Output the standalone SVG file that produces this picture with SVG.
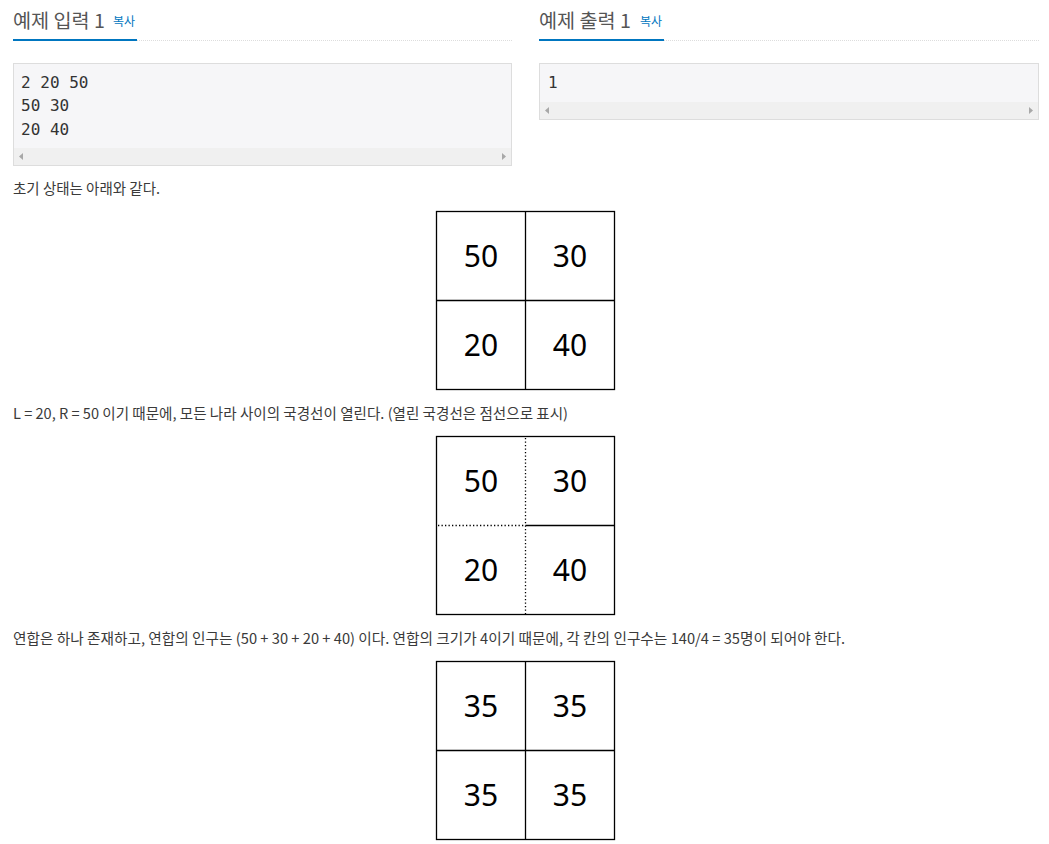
<svg xmlns="http://www.w3.org/2000/svg" width="1049" height="844" viewBox="0 0 1049 844">
<style>
.h{font-family:"Noto Sans CJK KR","Noto Sans",sans-serif;font-size:19px;fill:#555}
.cp{font-family:"Noto Sans CJK KR",sans-serif;font-size:12px;fill:#0076c0}
.code{font-family:"DejaVu Sans Mono",monospace;font-size:16px;fill:#333}
.p{font-family:"Noto Sans CJK KR","Noto Sans",sans-serif;font-size:14.5px;fill:#3a3a3a}
.n{font-family:"Noto Sans","Open Sans",sans-serif;font-size:30px;fill:#000;text-anchor:middle}
.box{fill:#f6f6f8;stroke:#ddd;stroke-width:1}
.sb{fill:#f0f0f0}
.arr{fill:#a8a8a8}
.cell{fill:#fff;stroke:#000;stroke-width:1.3}
.ln{stroke:#000;stroke-width:1.3}
.dot{stroke:#000;stroke-width:1.3;stroke-dasharray:1.3 2.2}
</style>
<rect width="1049" height="844" fill="#fff"/>
<g id="input-header">
<text class="h" x="13" y="28" textLength="92" lengthAdjust="spacingAndGlyphs">예제 입력 1</text>
<text class="cp" x="113" y="26">복사</text>
<line x1="137" y1="40.5" x2="512" y2="40.5" stroke="#ddd" stroke-width="1" stroke-dasharray="1 1"/>
<line x1="13" y1="40" x2="137" y2="40" stroke="#0076c0" stroke-width="2"/>
</g>
<g id="output-header">
<text class="h" x="539" y="28" textLength="92" lengthAdjust="spacingAndGlyphs">예제 출력 1</text>
<text class="cp" x="640" y="26">복사</text>
<line x1="664" y1="40.5" x2="1039" y2="40.5" stroke="#ddd" stroke-width="1" stroke-dasharray="1 1"/>
<line x1="539" y1="40" x2="664" y2="40" stroke="#0076c0" stroke-width="2"/>
</g>
<g id="input-box">
<rect class="box" x="13.5" y="63.5" width="498" height="102"/>
<rect class="sb" x="14" y="148" width="497" height="17"/>
<path class="arr" d="M19 156.5 L23 153 L23 160 Z"/>
<path class="arr" d="M506 156.5 L502 153 L502 160 Z"/>
<text class="code" x="21" y="88">2 20 50</text>
<text class="code" x="21" y="111">50 30</text>
<text class="code" x="21" y="135">20 40</text>
</g>
<g id="output-box">
<rect class="box" x="539.5" y="63.5" width="499" height="56"/>
<rect class="sb" x="540" y="102" width="498" height="17"/>
<path class="arr" d="M545 110.5 L549 107 L549 114 Z"/>
<path class="arr" d="M1033 110.5 L1029 107 L1029 114 Z"/>
<text class="code" x="548" y="88">1</text>
</g>
<text class="p" x="13" y="194" textLength="147" lengthAdjust="spacingAndGlyphs">초기 상태는 아래와 같다.</text>
<g id="grid1">
<rect class="cell" x="436.5" y="211.5" width="178" height="178"/>
<line class="ln" x1="525.5" y1="211.5" x2="525.5" y2="389.5"/>
<line class="ln" x1="436.5" y1="300.5" x2="614.5" y2="300.5"/>
<text class="n" x="481" y="267">50</text>
<text class="n" x="570" y="267">30</text>
<text class="n" x="481" y="356">20</text>
<text class="n" x="570" y="356">40</text>
</g>
<text class="p" x="13" y="419" textLength="555" lengthAdjust="spacingAndGlyphs">L = 20, R = 50 이기 때문에, 모든 나라 사이의 국경선이 열린다. (열린 국경선은 점선으로 표시)</text>
<g id="grid2">
<rect class="cell" x="436.5" y="436.5" width="178" height="178"/>
<line class="dot" x1="525.5" y1="438" x2="525.5" y2="614"/>
<line class="dot" x1="438" y1="525.5" x2="525" y2="525.5"/>
<line class="ln" x1="525.5" y1="525.5" x2="614.5" y2="525.5"/>
<text class="n" x="481" y="492">50</text>
<text class="n" x="570" y="492">30</text>
<text class="n" x="481" y="581">20</text>
<text class="n" x="570" y="581">40</text>
</g>
<text class="p" x="13" y="644" textLength="832" lengthAdjust="spacingAndGlyphs">연합은 하나 존재하고, 연합의 인구는 (50 + 30 + 20 + 40) 이다. 연합의 크기가 4이기 때문에, 각 칸의 인구수는 140/4 = 35명이 되어야 한다.</text>
<g id="grid3">
<rect class="cell" x="436.5" y="661.5" width="178" height="178"/>
<line class="ln" x1="525.5" y1="661.5" x2="525.5" y2="839.5"/>
<line class="ln" x1="436.5" y1="750.5" x2="614.5" y2="750.5"/>
<text class="n" x="481" y="717">35</text>
<text class="n" x="570" y="717">35</text>
<text class="n" x="481" y="806">35</text>
<text class="n" x="570" y="806">35</text>
</g>
</svg>
